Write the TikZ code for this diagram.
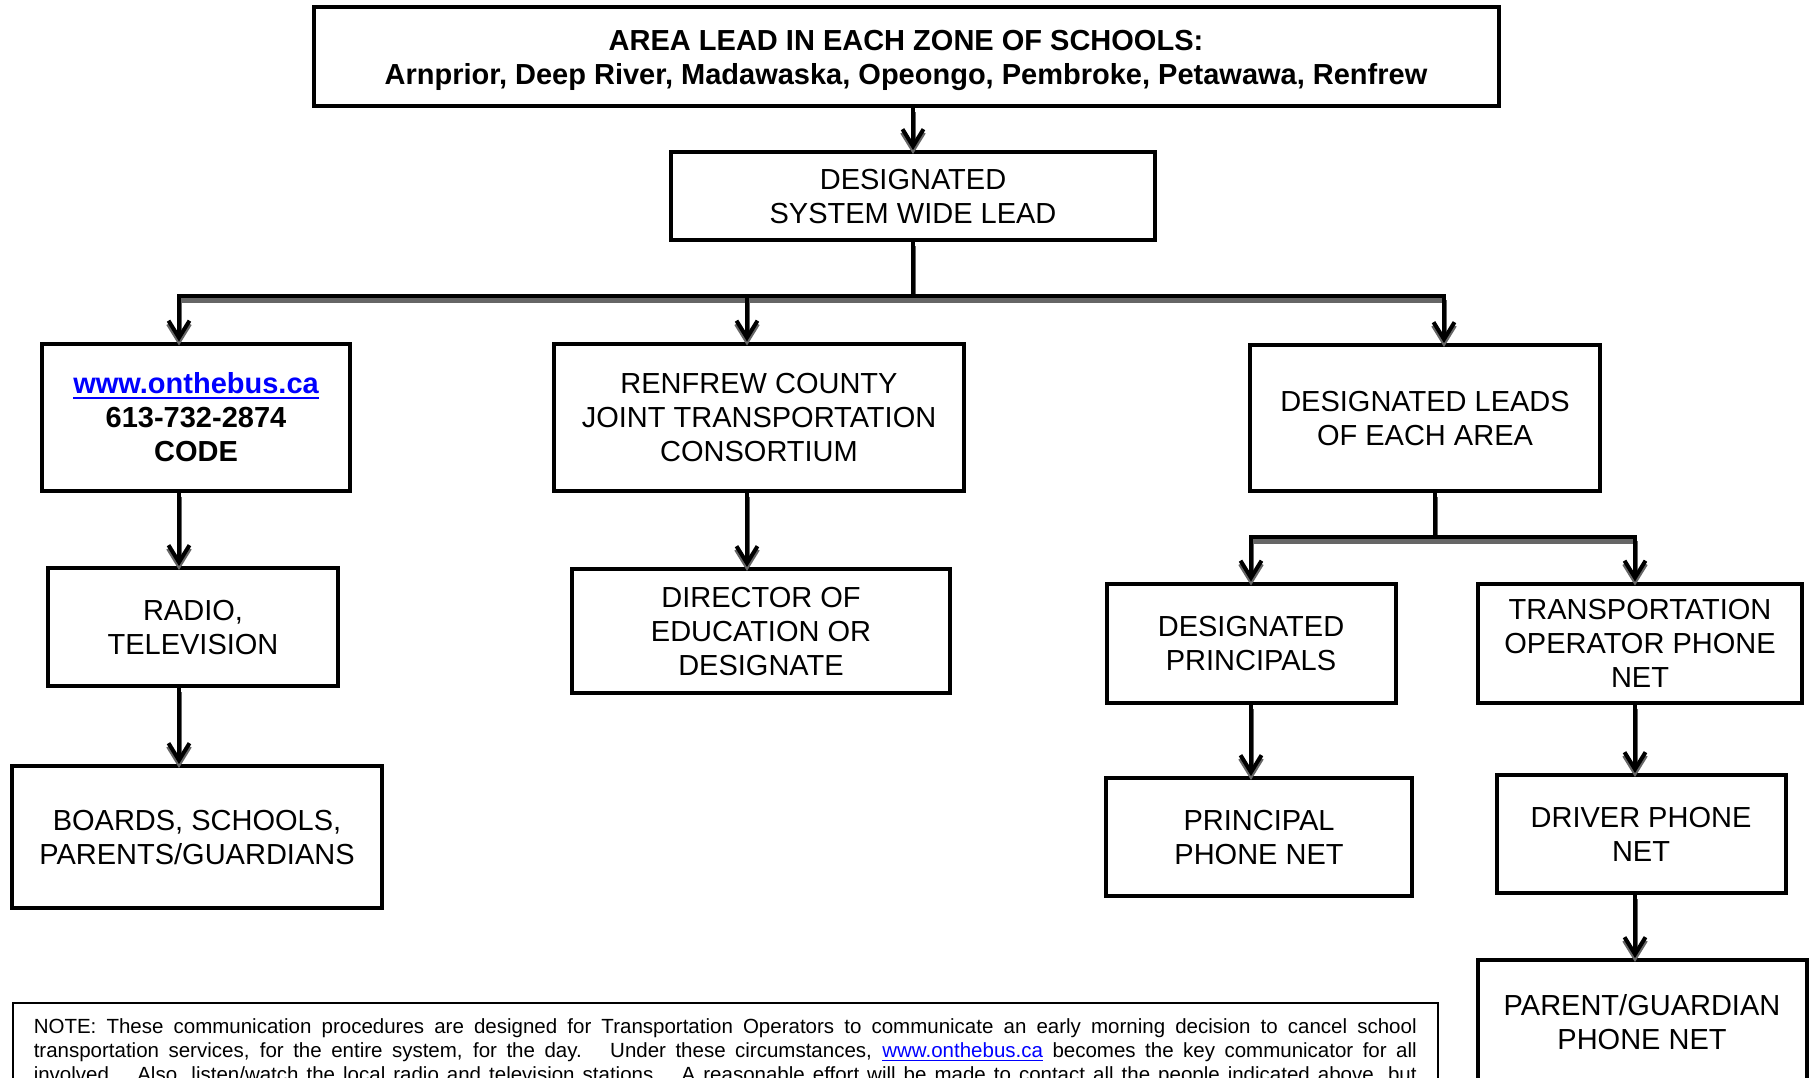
\documentclass[tikz,border=0pt]{standalone}
\usepackage{fontspec}
\setmainfont{Liberation Sans}
\usetikzlibrary{arrows.meta}
\definecolor{linkblue}{RGB}{0,0,255}
\newcommand\weblink[1]{{\color{linkblue}\setbox0\hbox{#1}\rlap{\rule[-0.2em]{\wd0}{0.08em}}\box0}}
\tikzset{
  box/.style={draw, line width=4pt, align=center, inner sep=0pt, text depth=-6pt, font=\fontsize{29}{34}\selectfont},
  conn/.style={line width=4pt, line cap=rect, preaction={draw=black!60, line width=5pt, transform canvas={yshift=-4pt}}},
  arr/.style={conn, -{Straight Barb[length=17pt,width=21pt]}}
}
\begin{document}
\begin{tikzpicture}[x=1pt,y=-1pt]
\path[use as bounding box] (0,0) rectangle (1814,1078);
\clip (0,0) rectangle (1814,1078);
\node[box, minimum width=1185, minimum height=99, font=\fontsize{29}{34}\selectfont\bfseries] (top) at (906,57) {AREA LEAD IN EACH ZONE OF SCHOOLS:\\Arnprior, Deep River, Madawaska, Opeongo, Pembroke, Petawawa, Renfrew};
\node[box, minimum width=484, minimum height=88] (sys) at (913,196) {DESIGNATED\\SYSTEM WIDE LEAD};
\node[box, minimum width=308, minimum height=147, font=\fontsize{29}{34}\selectfont\bfseries] (web) at (196,417) {\weblink{www.onthebus.ca}\\613-732-2874\\CODE};
\node[box, minimum width=410, minimum height=147] (rcjtc) at (759,417) {RENFREW COUNTY\\JOINT TRANSPORTATION\\CONSORTIUM};
\node[box, minimum width=350, minimum height=146] (leads) at (1425,418) {DESIGNATED LEADS\\OF EACH AREA};
\node[box, minimum width=290, minimum height=118] (radio) at (193,627) {RADIO,\\TELEVISION};
\node[box, minimum width=370, minimum height=142] (boards) at (197,837) {BOARDS, SCHOOLS,\\PARENTS/GUARDIANS};
\node[box, minimum width=378, minimum height=124] (dir) at (761,631) {DIRECTOR OF\\EDUCATION OR\\DESIGNATE};
\node[box, minimum width=289, minimum height=119] (prin) at (1251,643) {DESIGNATED\\PRINCIPALS};
\node[box, minimum width=324, minimum height=119] (trans) at (1640,643) {TRANSPORTATION\\OPERATOR PHONE\\NET};
\node[box, minimum width=306, minimum height=118] (pnet) at (1259,837) {PRINCIPAL\\PHONE NET};
\node[box, minimum width=289, minimum height=118] (driver) at (1641,834) {DRIVER PHONE\\NET};
\node[box, minimum width=329, minimum height=124] (parent) at (1642,1022) {PARENT/GUARDIAN\\PHONE NET};
\node[draw, line width=1.5pt, anchor=north west, inner xsep=21, inner ysep=16, font=\fontsize{20.5}{23.7}\selectfont] (note) at (12,1002) {\parbox[t][120pt][t]{1383pt}{%
\makebox[\linewidth][s]{NOTE: These communication procedures are designed for Transportation Operators to communicate an early morning decision to cancel school}\\
\makebox[\linewidth][s]{transportation services, for the entire system, for the day.~ Under these circumstances, \weblink{www.onthebus.ca} becomes the key communicator for all}\\
\makebox[\linewidth][s]{involved.~ Also, listen/watch the local radio and television stations.~ A reasonable effort will be made to contact all the people indicated above, but}}};
\coordinate (j1) at (179,296);
\coordinate (j2) at (747,296);
\coordinate (j3) at (1444,296);
\coordinate (k1) at (1251,537);
\coordinate (k2) at (1635,537);
\draw[arr] (top.south -| sys) -- (sys.north);
\draw[conn] (sys.south) -- (sys.south |- j1);
\draw[conn] (j1) -- (j3);
\draw[arr] (j1) -- (j1 |- web.north);
\draw[arr] (j2) -- (j2 |- rcjtc.north);
\draw[arr] (j3) -- (j3 |- leads.north);
\draw[arr] (web.south -| j1) -- (radio.north -| j1);
\draw[arr] (radio.south -| j1) -- (boards.north -| j1);
\draw[arr] (rcjtc.south -| j2) -- (dir.north -| j2);
\draw[conn] ([xshift=10]leads.south) -- ([xshift=10]leads.south |- k1);
\draw[conn] (k1) -- (k2);
\draw[arr] (k1) -- (k1 |- prin.north);
\draw[arr] (k2) -- (k2 |- trans.north);
\draw[arr] (prin.south -| k1) -- (pnet.north -| k1);
\draw[arr] (trans.south -| k2) -- (driver.north -| k2);
\draw[arr] (driver.south -| k2) -- (parent.north -| k2);
\end{tikzpicture}
\end{document}
